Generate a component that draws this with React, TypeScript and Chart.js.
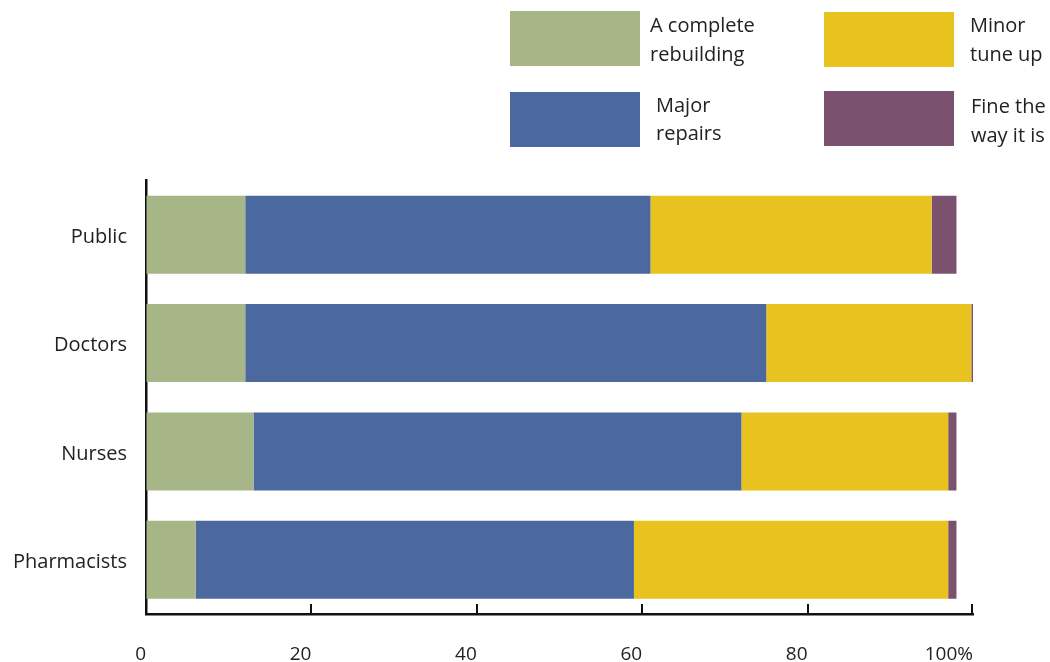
import { useEffect, useRef } from "react";
import { Chart, registerables } from "chart.js";

Chart.register(...registerables);

// Survey groups, top to bottom
const groups = ["Public", "Doctors", "Nurses", "Pharmacists"];

// Share of each group (%) choosing each answer
const completeRebuilding = [12, 12, 13, 6];
const majorRepairs = [49, 63, 59, 53];
const minorTuneUp = [34, 24.8, 25, 38];
const fineTheWayItIs = [3, 0.2, 1, 1];

// Horizontal axis ticks
const xTicks = [0, 20, 40, 60, 80, 100];

const seriesLabels = [
  ["A complete", "rebuilding"],
  ["Major", "repairs"],
  ["Minor", "tune up"],
  ["Fine the", "way it is"],
];
const seriesColors = ["#A6B687", "#4B699F", "#E8C21F", "#7A5270"];

const FONT = "'Open Sans', Lato, sans-serif";
const TEXT = "#222222";
const AXIS = "#111111";

// Where each legend swatch sits (2 x 2 grid above the plot)
const legendLayout = [
  { box: [510, 11], textX: 650, baselines: [32, 60.5] },
  { box: [510, 92], textX: 656, baselines: [111.5, 140] },
  { box: [824, 12], textX: 970, baselines: [32, 60.5] },
  { box: [824, 91], textX: 971, baselines: [113, 141.5] },
];
const SWATCH_W = 130;
const SWATCH_H = 55;

const legendPlugin = {
  id: "boxLegend",
  afterDraw(chart: any) {
    const { ctx } = chart;
    ctx.save();
    chart.data.datasets.forEach((ds: any, i: number) => {
      const l = legendLayout[i];
      ctx.fillStyle = ds.backgroundColor;
      ctx.fillRect(l.box[0], l.box[1], SWATCH_W, SWATCH_H);
      ctx.fillStyle = TEXT;
      ctx.font = `20px ${FONT}`;
      ctx.textAlign = "left";
      ctx.textBaseline = "alphabetic";
      (ds.label as string).split("\n").forEach((line, j) => {
        ctx.fillText(line, l.textX, l.baselines[j]);
      });
    });
    ctx.restore();
  },
};

// Short tick marks pointing up from the horizontal axis into the plot
const innerTicksPlugin = {
  id: "innerTicks",
  afterDraw(chart: any) {
    const { ctx } = chart;
    const xs = chart.scales.x;
    const bottom = chart.chartArea.bottom;
    ctx.save();
    ctx.strokeStyle = AXIS;
    ctx.lineWidth = 2;
    xTicks.forEach((v) => {
      if (v === xTicks[0]) return;
      const x = Math.round(xs.getPixelForValue(v)) - (v === xTicks[xTicks.length - 1] ? 1 : 0);
      ctx.beginPath();
      ctx.moveTo(x, bottom - 10);
      ctx.lineTo(x, bottom);
      ctx.stroke();
    });
    ctx.restore();
  },
};

export default function App() {
  const canvasRef = useRef<HTMLCanvasElement | null>(null);

  useEffect(() => {
    if (!canvasRef.current) return;
    const values = [completeRebuilding, majorRepairs, minorTuneUp, fineTheWayItIs];
    const chart = new Chart(canvasRef.current, {
      type: "bar",
      data: {
        labels: groups,
        datasets: values.map((data, i) => ({
          label: seriesLabels[i].join("\n"),
          data,
          backgroundColor: seriesColors[i],
          borderWidth: 0,
        })),
      },
      options: {
        indexAxis: "y",
        animation: false,
        responsive: true,
        maintainAspectRatio: false,
        layout: { padding: { top: 180.5, right: 77, bottom: 0, left: 0 } },
        plugins: {
          legend: { display: false },
          tooltip: { enabled: false },
        },
        scales: {
          x: {
            stacked: true,
            min: 0,
            max: 100,
            z: 1,
            afterFit: (scale: any) => {
              scale.height = 48;
            },
            afterBuildTicks: (scale: any) => {
              scale.ticks = xTicks.map((value) => ({ value }));
            },
            grid: { drawOnChartArea: false, drawTicks: false },
            border: { display: true, color: AXIS, width: 2.5 },
            ticks: {
              align: "end",
              padding: 29,
              color: TEXT,
              font: { family: FONT, size: 19 },
              callback: (v: any) => (Number(v) === 100 ? "100%" : String(v)),
            },
          },
          y: {
            stacked: true,
            z: 1,
            afterFit: (scale: any) => {
              scale.width = 146;
            },
            grid: { drawOnChartArea: false, drawTicks: false },
            border: { display: true, color: AXIS, width: 2.5 },
            ticks: {
              padding: 19,
              labelOffset: 2.5,
              color: TEXT,
              font: { family: FONT, size: 20 },
            },
          },
        },
      },
      plugins: [legendPlugin, innerTicksPlugin],
    });
    return () => chart.destroy();
  }, []);

  return (
    <div
      style={{
        position: "fixed",
        left: 0,
        top: 0,
        width: 1050,
        height: 662,
        background: "#ffffff",
      }}
    >
      <canvas ref={canvasRef} />
    </div>
  );
}
